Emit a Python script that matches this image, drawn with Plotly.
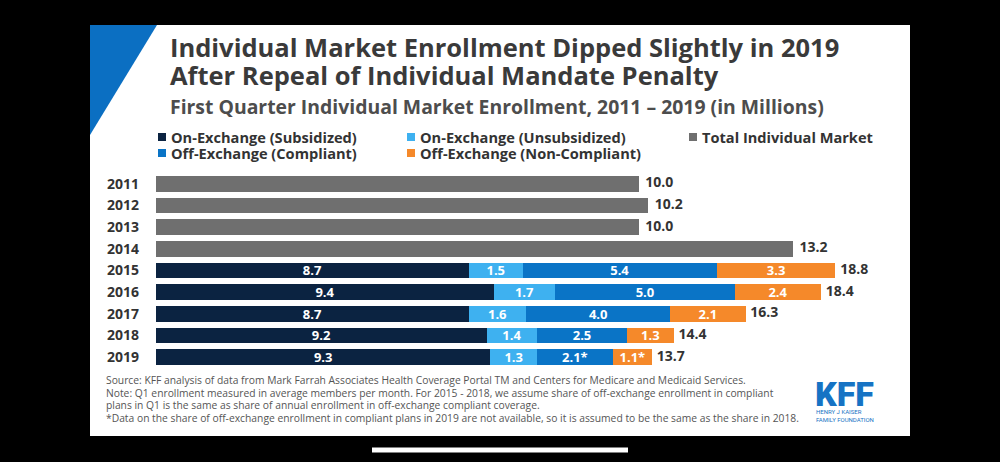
import plotly.graph_objects as go

# ---------------- data ----------------
total_years = ["2011", "2012", "2013", "2014"]
total_only = [10.0, 10.2, 10.0, 13.2]
split_years = ["2015", "2016", "2017", "2018", "2019"]
on_sub = [8.7, 9.4, 8.7, 9.2, 9.3]
on_unsub = [1.5, 1.7, 1.6, 1.4, 1.3]
off_comp = [5.4, 5.0, 4.0, 2.5, 2.1]
off_noncomp = [3.3, 2.4, 2.1, 1.3, 1.1]
split_totals = [18.8, 18.4, 16.3, 14.4, 13.7]
estimated = [False, False, False, False, True]  # "*" footnote flag

series_names = ["On-Exchange (Subsidized)", "On-Exchange (Unsubsidized)",
                "Off-Exchange (Compliant)", "Off-Exchange (Non-Compliant)",
                "Total Individual Market"]

# ---------------- style ----------------
C_DARK = "#0b2341"
C_LIGHT = "#3eb1f0"
C_MID = "#0a74c6"
C_ORANGE = "#f5892a"
C_GRAY = "#6f6f6f"
C_TEXT = "#333333"
FONT = "Open Sans"

W, H = 1000, 462
L, T, PW, PH = 156, 173, 719, 195
n_top = len(total_years)
n_all = len(total_years) + len(split_years)
split_frac = 1 - n_top / n_all


def px(xp):
    return (xp - L) / PW


def py(yp):
    return 1 - (yp - T) / PH


def fmt(v, star=False):
    return f"{v:.1f}" + ("*" if star else "")


fig = go.Figure()

stack_specs = [
    (on_sub, C_DARK, [fmt(v) for v in on_sub], series_names[0]),
    (on_unsub, C_LIGHT, [fmt(v) for v in on_unsub], series_names[1]),
    (off_comp, C_MID, [fmt(v, s) for v, s in zip(off_comp, estimated)], series_names[2]),
    (off_noncomp, C_ORANGE, [fmt(v, s) for v, s in zip(off_noncomp, estimated)], series_names[3]),
]
for vals, col, txt, name in stack_specs:
    fig.add_trace(go.Bar(
        y=split_years, x=vals, orientation="h", name=name,
        marker=dict(color=col, line=dict(width=0)),
        text=txt, textposition="inside", insidetextanchor="middle",
        constraintext="none", textangle=0,
        textfont=dict(color="white", size=13, family=FONT, weight="bold"),
        xaxis="x", yaxis="y", showlegend=False, hoverinfo="x+y",
    ))

fig.add_trace(go.Bar(
    y=total_years, x=total_only, orientation="h", name=series_names[4],
    marker=dict(color=C_GRAY, line=dict(width=0)),
    xaxis="x2", yaxis="y2", showlegend=False, hoverinfo="x+y",
))

total_font = dict(size=14, color=C_TEXT, family=FONT, weight="bold")
# total labels at bar ends (transparent marker only provides the gap)
fig.add_trace(go.Scatter(
    x=total_only, y=total_years, mode="markers+text", text=[fmt(v) for v in total_only],
    textposition="middle right", textfont=total_font, cliponaxis=False,
    marker=dict(size=9, color="rgba(0,0,0,0)"), xaxis="x2", yaxis="y2",
    showlegend=False, hoverinfo="skip",
))
stack_ends = [a + b + c + d for a, b, c, d in zip(on_sub, on_unsub, off_comp, off_noncomp)]
fig.add_trace(go.Scatter(
    x=stack_ends, y=split_years, mode="markers+text", text=[fmt(v) for v in split_totals],
    textposition="middle right", textfont=total_font, cliponaxis=False,
    marker=dict(size=6, color="rgba(0,0,0,0)"), xaxis="x", yaxis="y",
    showlegend=False, hoverinfo="skip",
))

annotations = []
# titles
annotations.append(dict(x=px(169), y=py(47), xref="paper", yref="paper", xanchor="left", yanchor="middle",
                        text="Individual Market Enrollment Dipped Slightly in 2019", showarrow=False,
                        borderpad=0,
                        font=dict(size=25.5, color="#3a3a3a", family=FONT, weight="bold")))
annotations.append(dict(x=px(169), y=py(75), xref="paper", yref="paper", xanchor="left", yanchor="middle",
                        text="After Repeal of Individual Mandate Penalty", showarrow=False,
                        borderpad=0,
                        font=dict(size=25.5, color="#3a3a3a", family=FONT, weight="bold")))
annotations.append(dict(x=px(169), y=py(107), xref="paper", yref="paper", xanchor="left", yanchor="middle",
                        text="First Quarter Individual Market Enrollment, 2011 – 2019 (in Millions)",
                        showarrow=False, borderpad=0,
                        font=dict(size=19.4, color="#4d4d4d", family=FONT, weight="bold")))

# legend (custom layout)
legend_items = [
    (series_names[0], C_DARK, 158, 137),
    (series_names[1], C_LIGHT, 407, 137),
    (series_names[4], C_GRAY, 689, 137),
    (series_names[2], C_MID, 158, 153),
    (series_names[3], C_ORANGE, 407, 153),
]
shapes = [
    dict(type="rect", xref="paper", yref="paper", x0=px(90), x1=px(910), y0=py(25), y1=py(436),
         fillcolor="white", line=dict(width=0), layer="below"),
    dict(type="path", xref="paper", yref="paper",
         path=f"M {px(90)} {py(25)} L {px(157)} {py(25)} L {px(90)} {py(135)} Z",
         fillcolor="#0b6fc2", line=dict(width=0), layer="below"),
    dict(type="rect", xref="paper", yref="paper", x0=px(372), x1=px(628), y0=py(447.5), y1=py(452.5),
         fillcolor="white", line=dict(width=0), layer="below"),
]
for name, col, xs, yc in legend_items:
    shapes.append(dict(type="rect", xref="paper", yref="paper", x0=px(xs), x1=px(xs + 8),
                       y0=py(yc - 4), y1=py(yc + 4), fillcolor=col, line=dict(width=0)))
    annotations.append(dict(x=px(xs + 12), y=py(yc), xref="paper", yref="paper", xanchor="left",
                            yanchor="middle", text=name, showarrow=False, borderpad=0,
                            font=dict(size=14.6, color=C_TEXT, family=FONT, weight="bold")))

# footnotes
notes = [
    "Source: KFF analysis of data from Mark Farrah Associates Health Coverage Portal TM and Centers for Medicare and Medicaid Services.",
    "Note: Q1 enrollment measured in average members per month. For 2015 - 2018, we assume share of off-exchange enrollment in compliant",
    "plans in Q1 is the same as share of annual enrollment in off-exchange compliant coverage.",
    "*Data on the share of off-exchange enrollment in compliant plans in 2019 are not available, so it is assumed to be the same as the share in 2018.",
]
for i, n in enumerate(notes):
    annotations.append(dict(x=px(105), y=py(380 + i * 12.5), xref="paper", yref="paper", xanchor="left",
                            yanchor="middle", text=n, showarrow=False, borderpad=0,
                            font=dict(size=10.3, color="#555555", family=FONT)))

# KFF logo
annotations.append(dict(x=px(844), y=py(394), xref="paper", yref="paper", xanchor="center", yanchor="middle",
                        text="KFF", showarrow=False, borderpad=0,
                        font=dict(size=34, color="#1673c4", family="Roboto", weight=900)))
annotations.append(dict(x=px(815), y=py(415), xref="paper", yref="paper", xanchor="left", yanchor="middle",
                        text="HENRY J KAISER<br>FAMILY FOUNDATION", showarrow=False, align="left",
                        borderpad=0,
                        font=dict(size=6, color="#1673c4", family="Roboto")))

ytick = dict(size=14, color=C_TEXT, family=FONT, weight="bold")
fig.update_layout(
    width=W, height=H,
    margin=dict(l=L, t=T, r=W - L - PW, b=H - T - PH, pad=0),
    paper_bgcolor="black", plot_bgcolor="white",
    barmode="stack", bargap=0.28,
    font=dict(family=FONT, color=C_TEXT),
    showlegend=False,
    xaxis=dict(range=[0, 20], visible=False, fixedrange=True, anchor="y", domain=[0, 1]),
    xaxis2=dict(range=[0, 14.9], visible=False, fixedrange=True, anchor="y2", domain=[0, 1]),
    yaxis=dict(type="category", categoryorder="array", categoryarray=split_years, autorange="reversed",
               domain=[0, split_frac], anchor="x",
               showgrid=False, zeroline=False, showline=False, ticks="", ticklabelstandoff=16,
               tickfont=ytick, fixedrange=True),
    yaxis2=dict(type="category", categoryorder="array", categoryarray=total_years, autorange="reversed",
                domain=[split_frac, 1], anchor="x2",
                showgrid=False, zeroline=False, showline=False, ticks="", ticklabelstandoff=16,
                tickfont=ytick, fixedrange=True),
    shapes=shapes, annotations=annotations,
)

fig.write_html("out.html", config={"displayModeBar": False},
               post_script="document.body.style.margin='0';document.body.style.background='black';")
